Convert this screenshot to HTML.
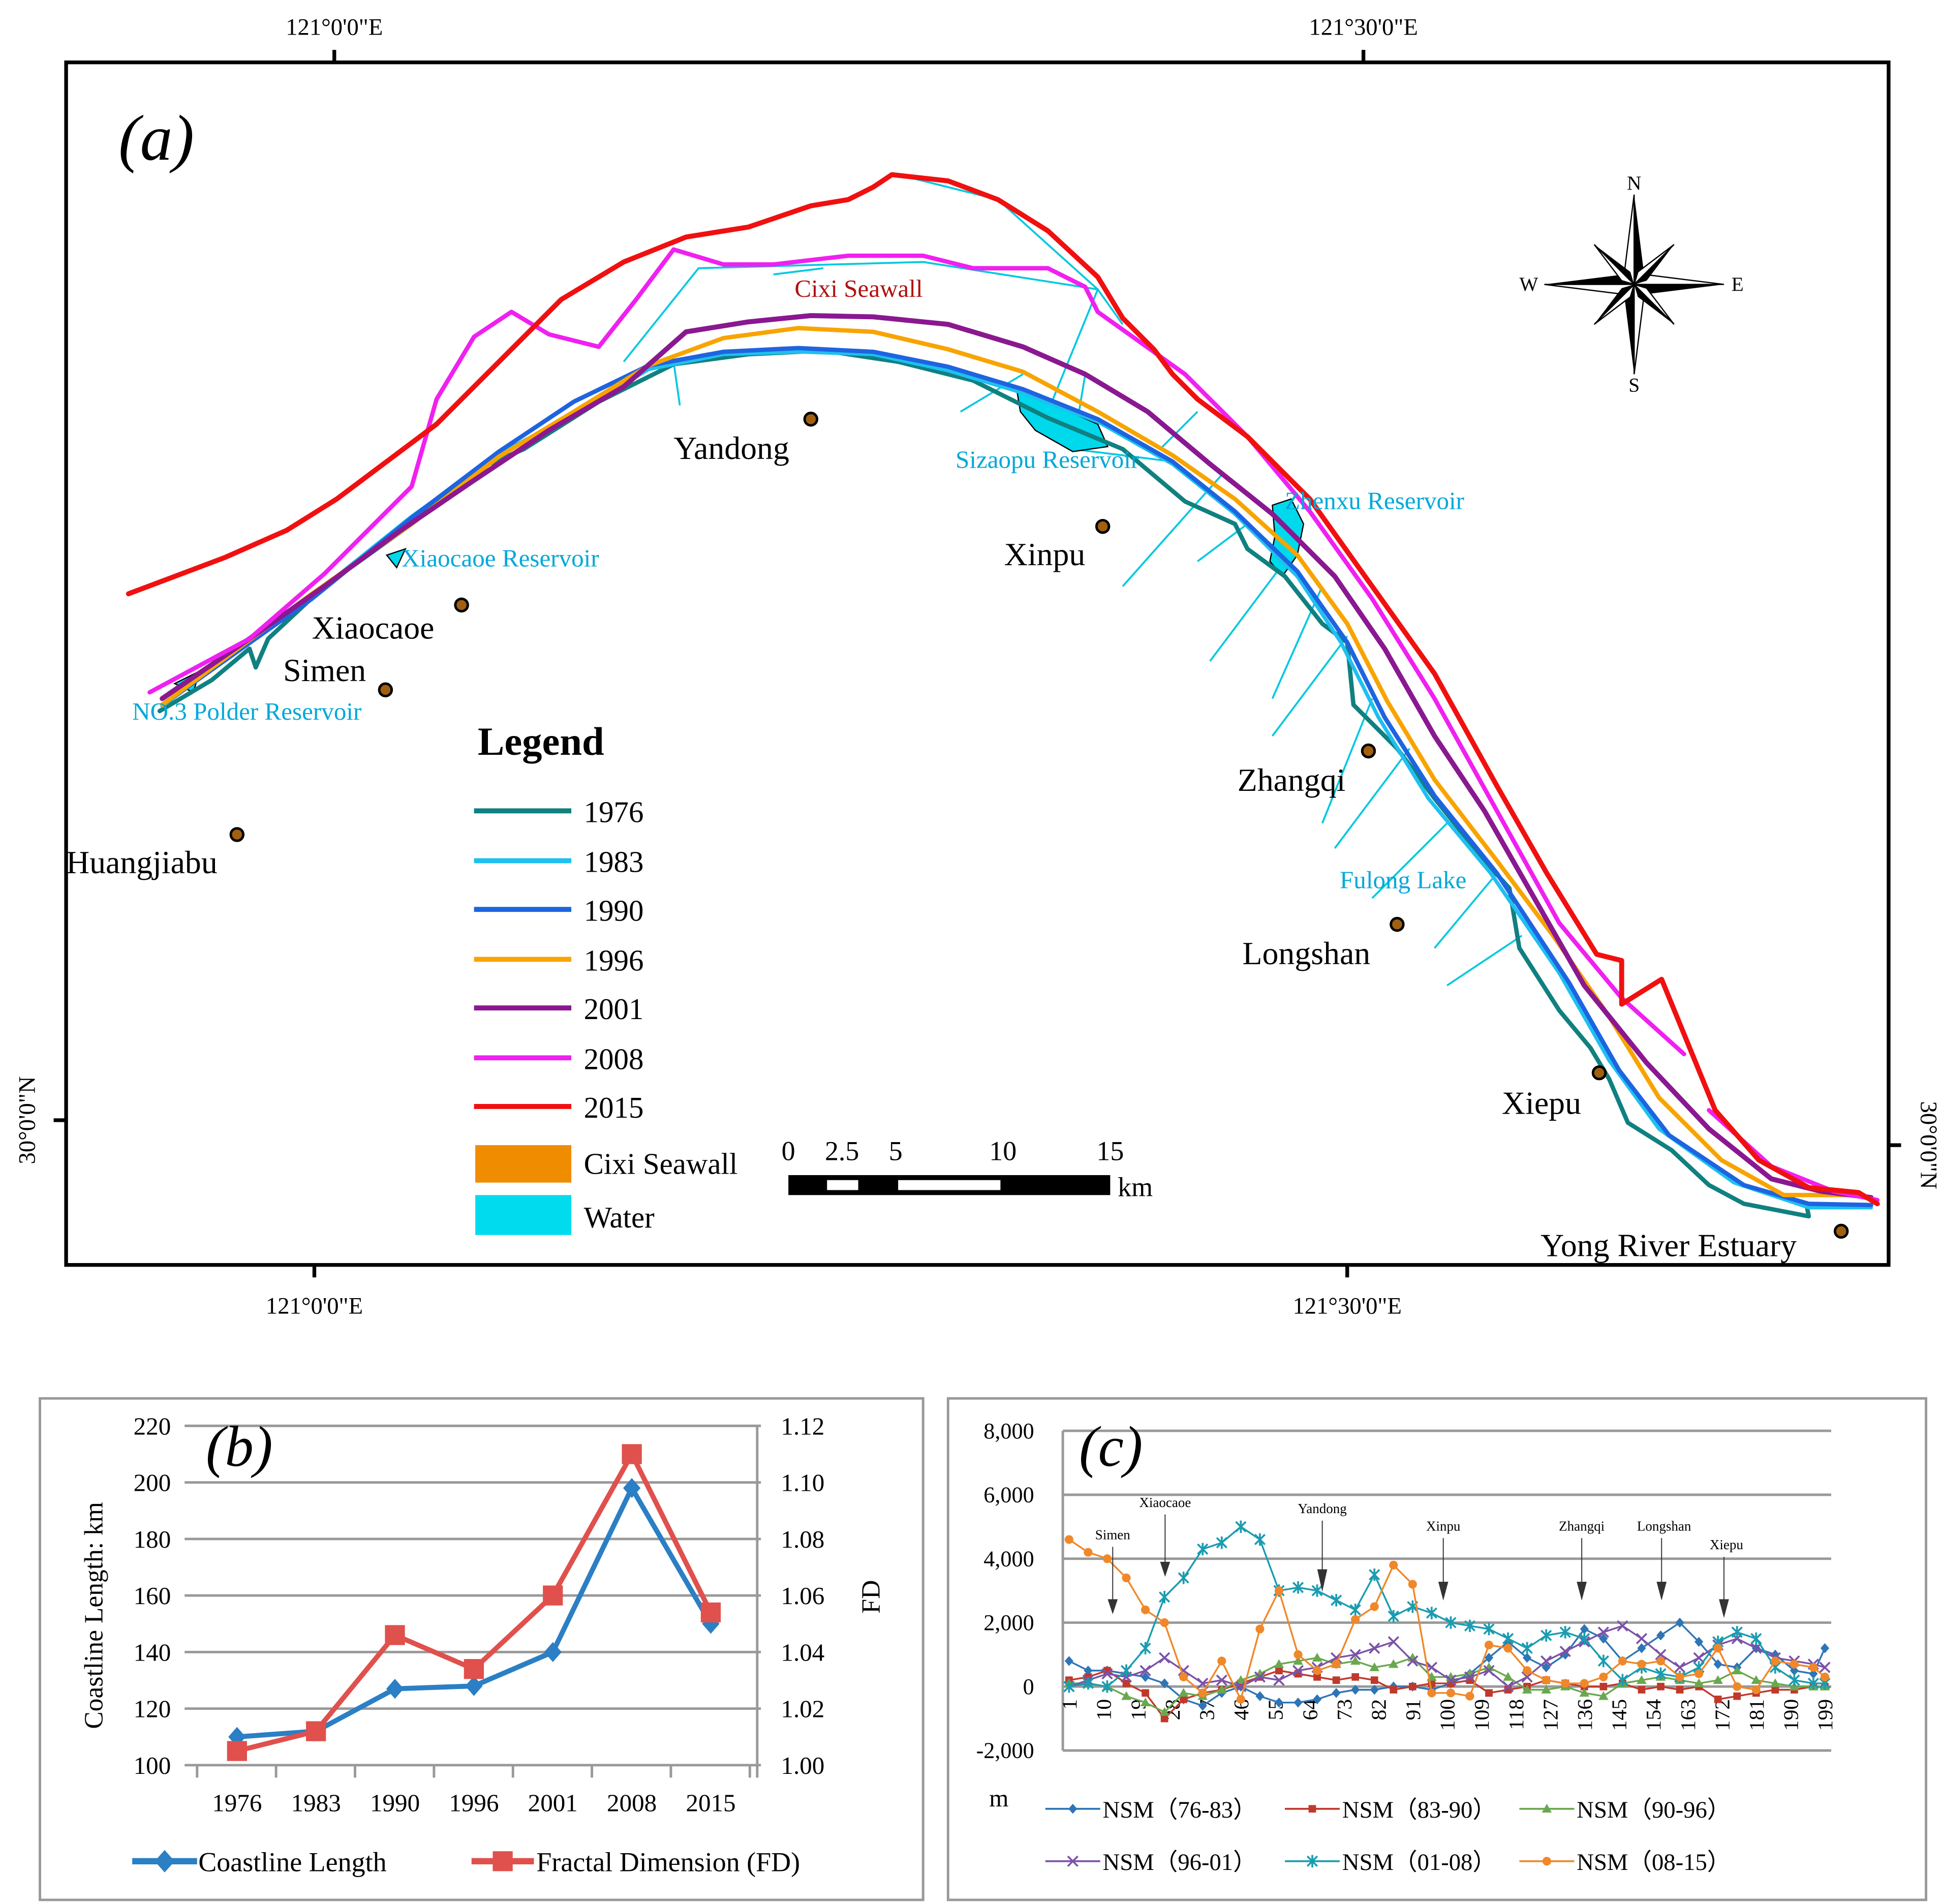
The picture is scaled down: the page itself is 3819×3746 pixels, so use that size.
<!DOCTYPE html>
<html><head><meta charset="utf-8">
<style>
html,body{margin:0;padding:0;background:#fff;}
svg{display:block;}
text{font-family:"Liberation Serif",serif;}
</style></head>
<body>
<svg id="fig" width="3819" height="3746" viewBox="0 0 1556 1526.3" preserveAspectRatio="none" xmlns="http://www.w3.org/2000/svg">
<rect width="1556" height="1527" fill="#fff"/>
<!-- ============ PANEL A: MAP ============ -->
<g>
<rect x="53" y="50" width="1461" height="964" fill="none" stroke="#000" stroke-width="3"/>
<g font-size="19" fill="#000">
<text x="268" y="28" text-anchor="middle">121°0'0"E</text>
<text x="1093" y="28" text-anchor="middle">121°30'0"E</text>
<text x="252" y="1053" text-anchor="middle">121°0'0"E</text>
<text x="1080" y="1053" text-anchor="middle">121°30'0"E</text>
<text transform="translate(28,898) rotate(-90)" text-anchor="middle">30°0'0"N</text>
<text transform="translate(1540,918) rotate(90)" text-anchor="middle">30°0'0"N</text>
</g>
<g stroke="#000" stroke-width="3">
<line x1="268" y1="40" x2="268" y2="50"/><line x1="1093" y1="40" x2="1093" y2="50"/>
<line x1="252" y1="1014" x2="252" y2="1024"/><line x1="1080" y1="1014" x2="1080" y2="1024"/>
<line x1="43" y1="898" x2="53" y2="898"/><line x1="1514" y1="918" x2="1524" y2="918"/>
</g>
<text x="95" y="128" font-size="52" font-style="italic">(a)</text>

<!-- water lines -->
<g stroke="#00c8e0" stroke-width="1.5" fill="none">
<path d="M500,290 L560,215 L740,210 L880,232 L840,330"/>
<path d="M540,290 L545,325 M820,300 L770,330 M880,232 L900,260 M960,330 L930,360 M980,380 L900,470 M1000,420 L960,450 M1030,450 L970,530 M1060,470 L1020,560 M1080,510 L1020,590 M1100,560 L1060,660 M1130,600 L1070,680 M1160,660 L1100,720 M1200,700 L1150,760 M1220,750 L1160,790"/>
<path d="M620,220 L660,215 M720,140 L800,160 L880,232"/>
<path d="M870,300 L860,360 L940,370"/>
</g>
<g fill="#00d8ec" stroke="#000" stroke-width="1">
<path d="M815,312 L835,320 L880,340 L888,358 L860,362 L830,345 L818,330Z"/>
<path d="M1020,405 L1035,400 L1045,420 L1040,445 L1028,462 L1018,450 L1022,430Z"/>
<path d="M140,548 L160,538 L155,555Z"/>
<path d="M310,445 L325,440 L318,455Z"/>
</g>

<!-- coastlines -->
<g fill="none" stroke-linejoin="round" stroke-linecap="round">
<path stroke="#108080" stroke-width="3.5" d="M128,570 L170,545 L200,520 L205,535 L215,512 L260,470 L330,420 L360,395 L385,375 L420,360 L480,322 L540,292 L600,284 L660,281 L720,290 L780,305 L840,335 L900,360 L950,402 L990,420 L1000,440 L1030,462 L1060,500 L1080,515 L1085,565 L1120,600 L1150,640 L1190,690 L1210,712 L1218,760 L1250,810 L1275,840 L1290,865 L1305,900 L1340,922 L1370,950 L1398,965 L1450,975 L1448,965"/>
<path stroke="#1ec0f0" stroke-width="3" d="M130,566 L250,478 L330,414 L400,364 L460,332 L520,296 L580,284 L640,282 L700,284 L760,297 L820,315 L880,338 L940,372 L990,412 L1040,462 L1075,515 L1105,575 L1145,640 L1195,700 L1250,780 L1290,850 L1330,905 L1390,948 L1450,968 L1500,968"/>
<path stroke="#1e64e0" stroke-width="3.5" d="M130,565 L250,480 L330,415 L400,362 L460,322 L520,293 L580,282 L640,279 L700,282 L760,294 L820,312 L880,336 L940,370 L990,410 L1040,458 L1080,515 L1110,575 L1150,638 L1200,700 L1258,788 L1298,858 L1338,910 L1398,950 L1450,965 L1500,966"/>
<path stroke="#f8a400" stroke-width="3.5" d="M130,565 L250,476 L330,420 L400,366 L460,330 L520,293 L580,271 L640,263 L700,266 L760,280 L820,298 L880,330 L940,365 L990,400 L1040,445 L1080,500 L1112,562 L1150,625 L1200,690 L1245,750 L1290,815 L1330,880 L1380,930 L1430,958 L1490,958"/>
<path stroke="#8a1890" stroke-width="4" d="M130,560 L200,512 L260,470 L320,426 L380,385 L440,345 L500,310 L550,266 L600,258 L650,253 L700,254 L760,260 L820,278 L870,300 L920,330 L970,372 L1020,412 L1070,462 L1110,520 L1150,590 L1190,650 L1230,720 L1270,790 L1320,852 L1370,905 L1420,945 L1460,955 L1500,960"/>
<path stroke="#f020f0" stroke-width="3.5" d="M120,555 L200,512 L260,460 L300,420 L330,390 L350,320 L380,270 L410,250 L440,268 L480,278 L510,240 L540,200 L580,212 L620,212 L680,205 L740,205 L780,215 L840,215 L870,230 L880,250 L950,300 L1000,350 L1050,410 L1100,480 L1150,560 L1200,650 L1250,740 L1300,800 L1350,845 M1370,890 L1420,935 L1470,955 L1505,962"/>
<path stroke="#f01010" stroke-width="4" d="M103,476 L180,447 L230,425 L270,400 L310,370 L350,340 L400,290 L450,240 L500,210 L550,190 L600,182 L650,165 L680,160 L700,150 L715,140 L760,145 L800,160 L840,185 L880,222 L900,255 L925,280 L940,300 L960,320 L1000,350 L1050,400 L1100,470 L1150,540 L1200,630 L1240,700 L1280,765 L1300,770 L1300,805 L1332,785 L1375,890 L1410,930 L1450,952 L1490,956 L1505,965"/>
</g>

<!-- places -->
<g fill="#a06010" stroke="#000" stroke-width="2">
<circle cx="650" cy="336" r="5"/><circle cx="884" cy="422" r="5"/><circle cx="370" cy="485" r="5"/>
<circle cx="309" cy="553" r="5"/><circle cx="190" cy="669" r="5"/><circle cx="1097" cy="602" r="5"/>
<circle cx="1120" cy="741" r="5"/><circle cx="1282" cy="860" r="5"/><circle cx="1476" cy="987" r="5"/>
</g>
<g font-size="26" fill="#000">
<text x="540" y="368">Yandong</text><text x="805" y="453">Xinpu</text>
<text x="250" y="512">Xiaocaoe</text><text x="227" y="546">Simen</text>
<text x="53" y="700">Huangjiabu</text><text x="992" y="634">Zhangqi</text>
<text x="996" y="773">Longshan</text><text x="1204" y="893">Xiepu</text>
<text x="1235" y="1007">Yong River Estuary</text>
</g>
<g font-size="20" fill="#00a8d8">
<text x="322" y="454">Xiaocaoe Reservoir</text>
<text x="106" y="577">NO.3 Polder Reservoir</text>
<text x="766" y="375">Sizaopu Reservoir</text>
<text x="1030" y="408">Zhenxu Reservoir</text>
<text x="1074" y="712">Fulong Lake</text>
</g>
<text x="637" y="238" font-size="20" fill="#b01010">Cixi Seawall</text>

<!-- compass -->
<g transform="translate(1310,228)">
<polygon points="0,-72 8,-8 0,0" fill="#000"/><polygon points="0,-72 -8,-8 0,0" fill="#fff" stroke="#000"/>
<polygon points="0,72 -8,8 0,0" fill="#000"/><polygon points="0,72 8,8 0,0" fill="#fff" stroke="#000"/>
<polygon points="-72,0 -8,-8 0,0" fill="#000"/><polygon points="-72,0 -8,8 0,0" fill="#fff" stroke="#000"/>
<polygon points="72,0 8,8 0,0" fill="#000"/><polygon points="72,0 8,-8 0,0" fill="#fff" stroke="#000"/>
<polygon points="-32,-32 -3,-10 0,0" fill="#000"/><polygon points="-32,-32 -10,-3 0,0" fill="#fff" stroke="#000"/>
<polygon points="32,-32 10,-3 0,0" fill="#000"/><polygon points="32,-32 3,-10 0,0" fill="#fff" stroke="#000"/>
<polygon points="32,32 3,10 0,0" fill="#000"/><polygon points="32,32 10,3 0,0" fill="#fff" stroke="#000"/>
<polygon points="-32,32 -10,3 0,0" fill="#000"/><polygon points="-32,32 -3,10 0,0" fill="#fff" stroke="#000"/>
<g font-size="16"><text x="0" y="-76" text-anchor="middle">N</text><text x="0" y="86" text-anchor="middle">S</text>
<text x="-92" y="5">W</text><text x="78" y="5">E</text></g>
</g>

<!-- legend -->
<g font-size="24">
<text x="383" y="605" font-size="32" font-weight="bold">Legend</text>
<g stroke-width="4">
<line x1="380" y1="650" x2="458" y2="650" stroke="#108080"/><line x1="380" y1="690" x2="458" y2="690" stroke="#1ec0f0"/>
<line x1="380" y1="729" x2="458" y2="729" stroke="#1e64e0"/><line x1="380" y1="769" x2="458" y2="769" stroke="#f8a400"/>
<line x1="380" y1="808" x2="458" y2="808" stroke="#8a1890"/><line x1="380" y1="848" x2="458" y2="848" stroke="#f020f0"/>
<line x1="380" y1="887" x2="458" y2="887" stroke="#f01010"/>
</g>
<text x="468" y="659">1976</text><text x="468" y="699">1983</text><text x="468" y="738">1990</text>
<text x="468" y="778">1996</text><text x="468" y="817">2001</text><text x="468" y="857">2008</text>
<text x="468" y="896">2015</text>
<rect x="381" y="918" width="77" height="30" fill="#f08c00"/><text x="468" y="941">Cixi Seawall</text>
<rect x="381" y="958" width="77" height="32" fill="#00dcee"/><text x="468" y="984">Water</text>
</g>

<!-- scale bar -->
<g>
<rect x="632" y="942" width="258" height="16" fill="#000"/>
<rect x="663" y="946" width="25" height="8" fill="#fff"/><rect x="720" y="946" width="82" height="8" fill="#fff"/>
<g font-size="22"><text x="632" y="930" text-anchor="middle">0</text><text x="675" y="930" text-anchor="middle">2.5</text>
<text x="718" y="930" text-anchor="middle">5</text><text x="804" y="930" text-anchor="middle">10</text>
<text x="890" y="930" text-anchor="middle">15</text><text x="896" y="959">km</text></g>
</g>
</g>

<!-- ============ PANEL B ============ -->
<g>
<rect x="32" y="1121" width="708" height="402" fill="none" stroke="#999" stroke-width="2"/>
<g id="bGrid"></g>
<g id="bMarks"></g>
<text x="165" y="1175" font-size="46" font-style="italic">(b)</text>
<text transform="translate(82,1295) rotate(-90)" font-size="21" text-anchor="middle">Coastline Length: km</text>
<text transform="translate(705,1280) rotate(-90)" font-size="21" text-anchor="middle">FD</text>
<g font-size="22">
<line x1="106" y1="1492" x2="158" y2="1492" stroke="#2b7fc4" stroke-width="5"/>
<polygon points="132,1483 140,1492 132,1501 124,1492" fill="#2b7fc4"/>
<text x="159" y="1500">Coastline Length</text>
<line x1="378" y1="1492" x2="428" y2="1492" stroke="#e0504c" stroke-width="5"/>
<rect x="395" y="1484" width="16" height="16" fill="#e0504c"/>
<text x="430" y="1500">Fractal Dimension (FD)</text>
</g>
</g>

<!-- ============ PANEL C ============ -->
<g>
<rect x="760" y="1121" width="784" height="402" fill="none" stroke="#999" stroke-width="2"/>
<g id="cGrid"></g>
<g id="cMarks"></g>
<text x="865" y="1175" font-size="46" font-style="italic">(c)</text>
<text x="793" y="1448" font-size="20">m</text>
<g font-size="11" text-anchor="middle">
<text x="892" y="1234">Simen</text><text x="934" y="1208">Xiaocaoe</text><text x="1060" y="1213">Yandong</text>
<text x="1157" y="1227">Xinpu</text><text x="1268" y="1227">Zhangqi</text><text x="1334" y="1227">Longshan</text><text x="1384" y="1242">Xiepu</text>
<g stroke="#333" stroke-width="0.8">
<line x1="892" y1="1240" x2="892" y2="1285"/><line x1="934" y1="1214" x2="934" y2="1260"/>
<line x1="1060" y1="1219" x2="1060" y2="1272"/><line x1="1157" y1="1233" x2="1157" y2="1278"/>
<line x1="1268" y1="1233" x2="1268" y2="1278"/><line x1="1332" y1="1233" x2="1332" y2="1278"/>
<line x1="1382" y1="1248" x2="1382" y2="1292"/></g>
<g fill="#333">
<polygon points="888,1282 896,1282 892,1294"/><polygon points="930,1252 938,1252 934,1264"/>
<polygon points="1056,1258 1064,1258 1060,1276"/><polygon points="1153,1268 1161,1268 1157,1283"/>
<polygon points="1264,1268 1272,1268 1268,1283"/><polygon points="1328,1268 1336,1268 1332,1283"/>
<polygon points="1378,1282 1386,1282 1382,1297"/></g>
</g>
<g id="cLegend" font-size="19"></g>
</g>
</svg>
<script>
// ---------- Panel B data ----------
const bYears = ["1976","1983","1990","1996","2001","2008","2015"];
const bLength = [110, 112, 127, 128, 140, 198, 150];
const bFD = [1.005, 1.012, 1.046, 1.034, 1.060, 1.110, 1.054];
const bLeftTicks = [100,120,140,160,180,200,220];
const bRightTicks = ["1.00","1.02","1.04","1.06","1.08","1.10","1.12"];

// ---------- Panel C data ----------
const cIdx = [1,6,11,16,21,26,31,36,41,46,51,56,61,66,71,76,81,86,91,96,101,106,111,116,121,126,131,136,141,146,151,156,161,166,171,176,181,186,191,196,199];
const nsm7683 = [800,500,500,400,300,100,-400,-600,-200,0,-300,-500,-500,-400,-200,-100,-100,0,0,-100,100,400,900,1400,900,600,1000,1800,1500,800,1200,1600,2000,1400,700,600,1200,1000,500,400,1200];
const nsm8390 = [200,300,500,100,-200,-1000,-400,-200,-100,100,300,500,400,300,200,300,200,-100,0,100,100,200,-200,-100,0,200,100,0,0,100,-100,0,-100,0,-400,-300,-200,-100,-100,0,0];
const nsm9096 = [100,100,0,-300,-500,-800,-200,-300,-100,200,400,700,800,900,700,800,600,700,900,300,300,400,600,300,-100,-100,0,-200,-300,100,200,300,200,100,200,500,200,100,0,0,0];
const nsm9601 = [0,200,400,300,500,900,500,100,200,0,300,200,500,600,900,1000,1200,1400,800,600,200,300,500,0,300,800,1100,1400,1700,1900,1500,1000,600,900,1300,1500,1200,900,800,700,600];
const nsm0108 = [0,100,0,500,1200,2800,3400,4300,4500,5000,4600,3000,3100,3000,2700,2400,3500,2200,2500,2300,2000,1900,1800,1500,1200,1600,1700,1500,800,200,600,400,300,600,1400,1700,1500,600,200,100,100];
const nsm0815 = [4600,4200,4000,3400,2400,2000,300,-200,800,-400,1800,3000,1000,500,700,2100,2500,3800,3200,-200,-200,-300,1300,1200,500,200,100,100,300,800,700,800,300,400,1200,0,-100,800,700,600,300];
const cYTicks = [-2000,0,2000,4000,6000,8000];
const cYTickLabels = ["-2,000","0","2,000","4,000","6,000","8,000"];
const cXTicks = [1,10,19,28,37,46,55,64,73,82,91,100,109,118,127,136,145,154,163,172,181,190,199];
const cSeriesNames = ["NSM（76-83）","NSM（83-90）","NSM（90-96）","NSM（96-01）","NSM（01-08）","NSM（08-15）"];

const NS="http://www.w3.org/2000/svg";
function mk(parent, tag, attrs, txt){const e=document.createElementNS(NS,tag);for(const k in attrs)e.setAttribute(k,attrs[k]);if(txt!==undefined)e.textContent=txt;parent.appendChild(e);return e;}

// ---- Panel B ----
const bx = i => 190 + i*63.3;
const byL = v => 1415 - (v-100)*(272/120);
const byR = v => 1415 - (v-1.00)*(272/0.12);
const bg = document.getElementById('bGrid');
bLeftTicks.forEach((t,i)=>{
  const y=byL(t);
  const gl=mk(bg,'line',{x1:148,x2:610,y1:y,y2:y,stroke:'#999','stroke-width':2});
  
  
  const tl=mk(bg,'text',{x:137,y:y+7,'text-anchor':'end','font-size':20},String(t));
  
  
  const tr=mk(bg,'text',{x:626,y:y+7,'font-size':20},bRightTicks[i]);
  
  
});
mk(bg,'line',{x1:607,x2:607,y1:1143,y2:1425,stroke:'#999','stroke-width':2});
for(let k=0;k<=7;k++){const x=158+k*63.3; mk(bg,'line',{x1:x,x2:x,y1:1415,y2:1425,stroke:'#999','stroke-width':2});}
bYears.forEach((yr,i)=>{
  const t=mk(bg,'text',{x:bx(i),y:1452,'text-anchor':'middle','font-size':20},yr);
  
  
});
const bm=document.getElementById('bMarks');
const lenPath=mk(bm,'polyline',{points:bLength.map((v,i)=>bx(i)+','+byL(v)).join(' '),fill:'none',stroke:'#2b7fc4','stroke-width':4});


const fdPath=mk(bm,'polyline',{points:bFD.map((v,i)=>bx(i)+','+byR(v)).join(' '),fill:'none',stroke:'#e0504c','stroke-width':4});


bLength.forEach((v,i)=>{const x=bx(i),y=byL(v);
  const p=mk(bm,'polygon',{points:`${x},${y-8} ${x+7},${y} ${x},${y+8} ${x-7},${y}`,fill:'#2b7fc4'});
  
  });
bFD.forEach((v,i)=>{const x=bx(i),y=byR(v);
  const r=mk(bm,'rect',{x:x-8,y:y-8,width:16,height:16,fill:'#e0504c'});
  
  });

// ---- Panel C ----
const cx = idx => 857 + (idx-1)*3.06;
const cy = v => 1352 - v*(51.25/2000);
const cg=document.getElementById('cGrid');
cYTicks.forEach((t,i)=>{const y=cy(t);
  const gl=mk(cg,'line',{x1:852,x2:1468,y1:y,y2:y,stroke:'#999','stroke-width':2});
  
  
  const tl=mk(cg,'text',{x:829,y:y+6,'text-anchor':'end','font-size':18},cYTickLabels[i]);
  
  });
mk(cg,'line',{x1:852,x2:852,y1:cy(8000),y2:cy(-2000),stroke:'#999','stroke-width':2});
cXTicks.forEach(t=>{
  const tl=mk(cg,'text',{transform:`translate(${cx(t)+6},1362) rotate(-90)`,'text-anchor':'end','font-size':17,'font-family':'Liberation Sans, sans-serif'},String(t));
  
  });
const colors=['#2e75b6','#c0392b','#6aa84f','#7b52a8','#1a9cb0','#f0882a'];
const series=[nsm7683,nsm8390,nsm9096,nsm9601,nsm0108,nsm0815];
const shapes=['diamond','square','triangle','x','star','circle'];
function marker(g,shape,x,y,c){
  let e;
  if(shape==='diamond') e=mk(g,'polygon',{points:`${x},${y-4} ${x+3.5},${y} ${x},${y+4} ${x-3.5},${y}`,fill:c});
  else if(shape==='square') e=mk(g,'rect',{x:x-3,y:y-3,width:6,height:6,fill:c});
  else if(shape==='triangle') e=mk(g,'polygon',{points:`${x},${y-4} ${x+4},${y+3} ${x-4},${y+3}`,fill:c});
  else if(shape==='circle') e=mk(g,'circle',{cx:x,cy:y,r:3.5,fill:c});
  else if(shape==='x') e=mk(g,'path',{d:`M${x-4},${y-4}L${x+4},${y+4}M${x+4},${y-4}L${x-4},${y+4}`,stroke:c,'stroke-width':1.5});
  else e=mk(g,'path',{d:`M${x-4},${y-4}L${x+4},${y+4}M${x+4},${y-4}L${x-4},${y+4}M${x},${y-5}L${x},${y+5}`,stroke:c,'stroke-width':1.5});
  return e;
}
const cm=document.getElementById('cMarks');
series.forEach((s,si)=>{
  const g=mk(cm,'g',{});
  
  
  const pl=mk(g,'polyline',{points:s.map((v,i)=>cx(cIdx[i])+','+cy(v)).join(' '),fill:'none',stroke:colors[si],'stroke-width':1.4});
  
  
  s.forEach((v,i)=>{const m=marker(g,shapes[si],cx(cIdx[i]),cy(v),colors[si]);
    
    });
});
const cl=document.getElementById('cLegend');
cSeriesNames.forEach((n,i)=>{
  const col=i%3,row=Math.floor(i/3);
  const x0=[838,1030,1218][col], y0=[1450,1492][row];
  const g=mk(cl,'g',{});
  
  
  mk(g,'line',{x1:x0,x2:x0+44,y1:y0,y2:y0,stroke:colors[i],'stroke-width':1.5});
  marker(g,shapes[i],x0+22,y0,colors[i]);
  mk(g,'text',{x:x0+46,y:y0+7},n).setAttribute('font-family','Liberation Serif, Noto Serif CJK SC, serif');
});
</script>
</body></html>
